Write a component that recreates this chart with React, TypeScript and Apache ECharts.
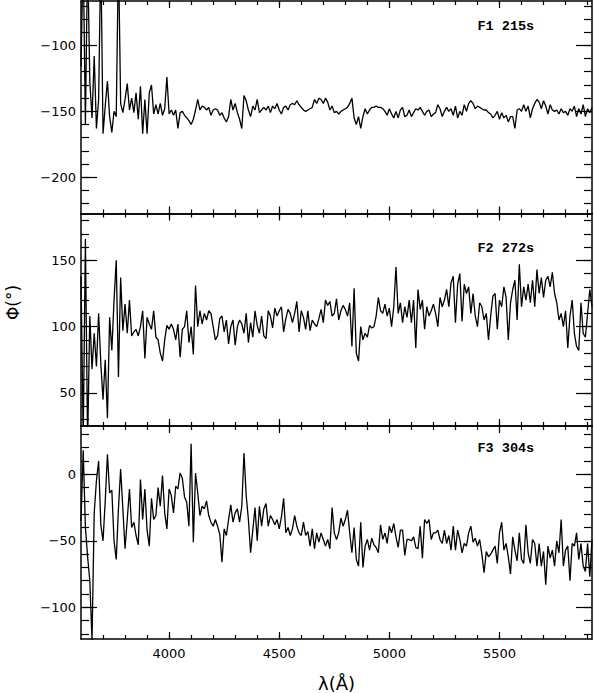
import React, { useEffect, useRef } from 'react';
import * as echarts from 'echarts';

// Wavelength sampling grid (Å)
const LAMBDA_START = 3600;
const LAMBDA_STEP = 10;
const X_MIN = 3600;
const X_MAX = 5920;

// Φ(°) per panel, one value per 10 Å from 3600 to 5920
const phiF1 = [
  -116, -30, -160, -30, -127, -155, -108, -163, -141, -30,
  -167, -146, -127, -154, -166, -150, -154, -30, -144, -151,
  -141, -129, -149, -140, -151, -136, -156, -131, -167, -141,
  -167, -136, -130, -152, -145, -152, -144, -153, -148, -124,
  -152, -149, -153, -149, -163, -151, -150, -153, -155, -157,
  -160, -156, -149, -141, -149, -146, -147, -149, -147, -153,
  -149, -148, -149, -153, -151, -155, -158, -154, -141, -149,
  -144, -151, -156, -163, -138, -142, -149, -154, -146, -149,
  -141, -151, -149, -147, -149, -146, -151, -146, -148, -144,
  -149, -152, -147, -146, -149, -145, -144, -145, -142, -145,
  -147, -149, -150, -149, -148, -147, -141, -144, -140, -141,
  -144, -140, -143, -149, -146, -151, -150, -152, -150, -149,
  -148, -147, -144, -140, -155, -160, -154, -163, -154, -148,
  -152, -149, -147, -147, -146, -147, -147, -148, -150, -153,
  -148, -152, -155, -150, -155, -149, -147, -154, -153, -149,
  -154, -151, -148, -149, -147, -150, -153, -150, -149, -154,
  -152, -151, -145, -148, -154, -150, -147, -150, -148, -153,
  -146, -155, -150, -153, -145, -150, -144, -142, -144, -148,
  -146, -147, -148, -149, -149, -151, -152, -155, -153, -150,
  -156, -151, -155, -153, -158, -154, -154, -163, -149, -148,
  -150, -145, -150, -146, -155, -148, -144, -141, -143, -148,
  -142, -146, -152, -145, -149, -150, -149, -152, -148, -151,
  -150, -153, -148, -150, -146, -154, -148, -152, -145, -154,
  -148, -151, -147,
];

const phiF2 = [
  138, 15, 166, 12, 108, 68, 95, 70, 110, 72,
  45, 75, 31, 107, 82, 120, 150, 62, 137, 97,
  117, 95, 120, 93, 96, 98, 93, 100, 112, 76,
  107, 102, 98, 112, 92, 90, 80, 74, 90, 101,
  98, 102, 98, 90, 102, 77, 98, 100, 112, 88,
  100, 79, 131, 100, 112, 102, 110, 105, 112, 110,
  100, 90, 93, 106, 108, 96, 105, 87, 100, 105,
  86, 100, 105, 102, 95, 110, 88, 103, 92, 112,
  101, 95, 108, 93, 91, 112, 108, 99, 114, 108,
  112, 115, 96, 106, 113, 110, 103, 110, 119, 96,
  112, 107, 98, 112, 97, 105, 102, 100, 106, 113,
  103, 120, 116, 119, 108, 110, 121, 105, 112, 116,
  113, 108, 118, 85, 129, 80, 74, 100, 90, 95,
  92, 101, 99, 100, 108, 122, 112, 110, 117, 108,
  114, 100, 115, 145, 110, 118, 103, 115, 107, 120,
  103, 120, 84, 128, 113, 120, 98, 115, 108, 112,
  117, 110, 100, 122, 115, 120, 128, 115, 133, 138,
  103, 132, 140, 104, 132, 125, 130, 110, 125, 108,
  100, 118, 115, 105, 110, 90, 108, 123, 125, 98,
  120, 115, 130, 122, 90, 118, 128, 135, 105, 147,
  115, 130, 120, 132, 118, 135, 115, 143, 125, 137,
  122, 135, 138, 130, 141, 125, 118, 105, 110, 100,
  112, 84, 108, 120, 95, 85, 82, 118, 95, 92,
  110, 128, 115,
];

const phiF3 = [
  -35, 18, -40, -62, -80, -125, -29, -5, 10, -38,
  -50, -20, 15, -14, -12, -50, -64, -26, 4, -26,
  -56, -34, -11, -40, -36, -46, -53, -4, -34, -11,
  -42, -54, -18, -34, -31, -10, -24, -1, -29, -41,
  -11, -16, -29, -9, -11, 1, -3, -17, -21, -39,
  23, -51, 1, -14, -31, -24, -26, -20, -31, -36,
  -39, -34, -39, -45, -66, -41, -46, -34, -23, -36,
  -29, -26, -36, -24, 16, -16, -34, -59, -42, -25,
  -50, -24, -39, -26, -22, -39, -31, -34, -38, -34,
  -41, -32, -18, -44, -40, -46, -41, -31, -39, -44,
  -46, -36, -46, -43, -54, -41, -56, -44, -51, -44,
  -49, -54, -49, -56, -25, -44, -49, -44, -33, -39,
  -34, -27, -44, -59, -40, -64, -69, -36, -70, -54,
  -49, -57, -48, -53, -55, -59, -38, -49, -44, -52,
  -39, -44, -37, -47, -55, -42, -42, -61, -49, -49,
  -50, -47, -55, -56, -39, -63, -34, -37, -34, -49,
  -44, -44, -42, -49, -52, -42, -52, -46, -57, -39,
  -57, -42, -49, -59, -52, -54, -44, -39, -51, -48,
  -54, -49, -60, -74, -58, -62, -60, -57, -54, -67,
  -44, -36, -57, -52, -62, -75, -47, -57, -65, -44,
  -64, -67, -38, -59, -67, -49, -52, -69, -52, -69,
  -58, -83, -54, -63, -57, -69, -50, -59, -34, -69,
  -57, -54, -80, -52, -54, -44, -64, -52, -69, -73,
  -52, -77, -49,
];

const panelLabels = ['F1 215s', 'F2 272s', 'F3 304s'];

// Tick values
const xMajorTicks = [4000, 4500, 5000, 5500];
const xMinorTicks = [3700, 3800, 3900, 4000, 4100, 4200, 4300, 4400, 4500, 4600, 4700, 4800, 4900,
  5000, 5100, 5200, 5300, 5400, 5500, 5600, 5700, 5800, 5900];

const f1YMajor = [-200, -150, -100];
const f1YMinor = [-220, -210, -200, -190, -180, -170, -160, -150, -140, -130, -120, -110, -100, -90, -80, -70];
const f2YMajor = [50, 100, 150];
const f2YMinor = [30, 40, 50, 60, 70, 80, 90, 100, 110, 120, 130, 140, 150, 160, 170, 180];
const f3YMajor = [-100, -50, 0];
const f3YMinor = [-120, -110, -100, -90, -80, -70, -60, -50, -40, -30, -20, -10, 0, 10, 20, 30];

const yRanges = [
  [-227.4, -66.4],
  [25.1, 185.3],
  [-123.8, 36.3],
];

export default function App() {
  const ref = useRef<HTMLDivElement>(null);

  useEffect(() => {
    if (!ref.current) return;
    const chart = echarts.init(ref.current, null, { renderer: 'svg' });

    const panels = [
      { data: phiF1, yMajor: f1YMajor, yMinor: f1YMinor, top: 1, height: 212.5, labelY: 27 },
      { data: phiF2, yMajor: f2YMajor, yMinor: f2YMinor, top: 213.5, height: 212.5, labelY: 249.5 },
      { data: phiF3, yMajor: f3YMajor, yMinor: f3YMinor, top: 426, height: 213, labelY: 449 },
    ];

    const fmt = (v: number) => String(v).replace('-', '\u2212');
    const lineStyle = { color: '#000', width: 1.5 };
    const tickStyle = { color: '#000', width: 1.2 };
    const labelFont = { color: '#000', fontFamily: 'DejaVu Sans', fontSize: 13 };

    const grid: any[] = [];
    const xAxis: any[] = [];
    const yAxis: any[] = [];
    const series: any[] = [];
    const graphic: any[] = [];

    panels.forEach((p, i) => {
      grid.push({ left: 81, right: 2, top: p.top, height: p.height, containLabel: false, outerBoundsMode: 'none' });
      const isLast = i === panels.length - 1;
      ['bottom', 'top'].forEach((pos) => {
        xAxis.push({
          type: 'value', gridIndex: i, position: pos, min: X_MIN, max: X_MAX,
          splitLine: { show: false },
          axisLine: { show: true, onZero: false, lineStyle },
          axisTick: { show: true, inside: true, length: 7, lineStyle: tickStyle, customValues: xMajorTicks },
          axisLabel: {
            show: isLast && pos === 'bottom', margin: 8, ...labelFont,
            customValues: xMajorTicks, formatter: (v: number) => fmt(v),
          },
        });
        xAxis.push({
          type: 'value', gridIndex: i, position: pos, min: X_MIN, max: X_MAX,
          splitLine: { show: false },
          axisLine: { show: false, onZero: false },
          axisTick: { show: true, inside: true, length: 4, lineStyle: tickStyle, customValues: xMinorTicks },
          axisLabel: { show: false },
        });
      });
      ['left', 'right'].forEach((pos) => {
        yAxis.push({
          type: 'value', gridIndex: i, position: pos, min: yRanges[i][0], max: yRanges[i][1],
          splitLine: { show: false },
          axisLine: { show: true, onZero: false, lineStyle },
          axisTick: { show: true, inside: true, length: 16, lineStyle: tickStyle, customValues: p.yMajor },
          axisLabel: {
            show: pos === 'left', margin: 5, ...labelFont,
            customValues: p.yMajor, formatter: (v: number) => fmt(v),
          },
        });
        yAxis.push({
          type: 'value', gridIndex: i, position: pos, min: yRanges[i][0], max: yRanges[i][1],
          splitLine: { show: false },
          axisLine: { show: false, onZero: false },
          axisTick: { show: true, inside: true, length: 8, lineStyle: tickStyle, customValues: p.yMinor },
          axisLabel: { show: false },
        });
      });
      series.push({
        type: 'line',
        xAxisIndex: i * 4,
        yAxisIndex: i * 4,
        data: p.data.map((v, k) => [LAMBDA_START + k * LAMBDA_STEP, v]),
        showSymbol: false,
        symbol: 'none',
        clip: true,
        lineStyle: { color: '#000', width: 1.3 },
      });
      graphic.push({
        type: 'text', left: 477.5, top: p.labelY - 8,
        style: { text: panelLabels[i], fill: '#000', font: 'bold 13.5px "Liberation Mono", monospace' },
      });
    });

    graphic.push({
      type: 'text', x: 336.5, y: 683,
      style: { text: 'λ(Å)', fill: '#000', font: '18px "DejaVu Sans", sans-serif', align: 'center', verticalAlign: 'middle' },
    });
    graphic.push({
      type: 'text', x: 12.5, y: 302.5, rotation: Math.PI / 2,
      style: { text: 'Φ(°)', fill: '#000', font: '17px "DejaVu Sans", sans-serif', align: 'center', verticalAlign: 'middle' },
    });

    chart.setOption({
      animation: false,
      backgroundColor: '#fff',
      grid, xAxis, yAxis, series, graphic,
    });

    return () => chart.dispose();
  }, []);

  return (
    <div
      ref={ref}
      style={{ position: 'absolute', left: 0, top: 0, width: 594, height: 693 }}
    />
  );
}
